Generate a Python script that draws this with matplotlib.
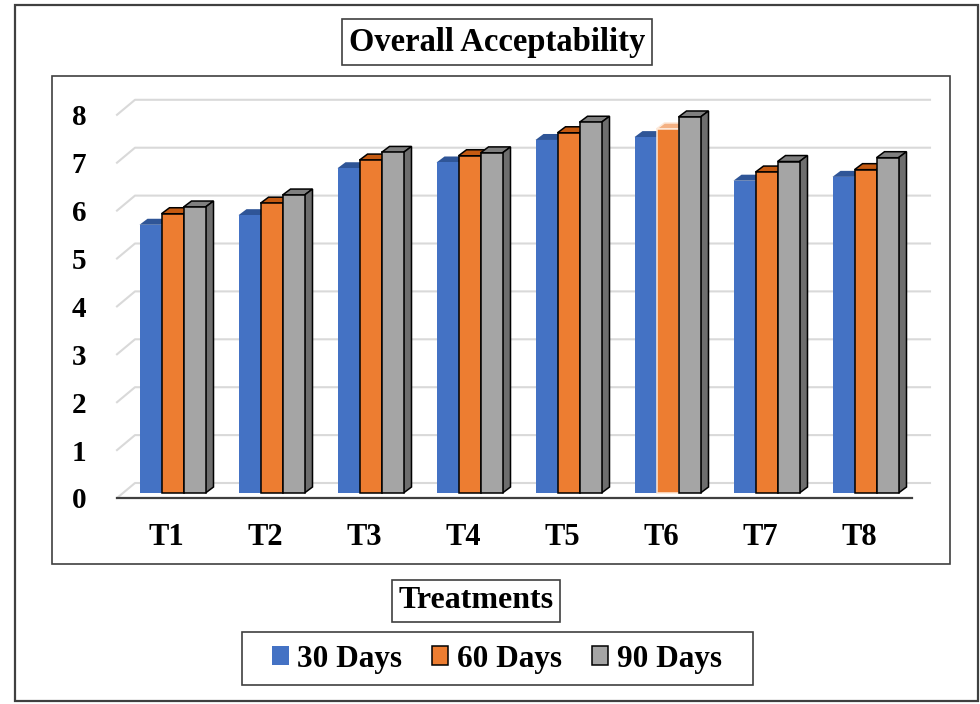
import matplotlib.pyplot as plt
from matplotlib.patches import Patch, Polygon, Rectangle

plt.rcParams["font.family"] = ["Liberation Serif", "DejaVu Serif"]
plt.rcParams["font.weight"] = "bold"

treatments = ["T1", "T2", "T3", "T4", "T5", "T6", "T7", "T8"]
series_names = ["30 Days", "60 Days", "90 Days"]
days_30 = [5.6, 5.8, 6.78, 6.9, 7.37, 7.43, 6.52, 6.6]
days_60 = [5.83, 6.05, 6.95, 7.04, 7.52, 7.6, 6.7, 6.75]
days_90 = [5.97, 6.22, 7.11, 7.1, 7.74, 7.85, 6.92, 7.0]
y_ticks = [0, 1, 2, 3, 4, 5, 6, 7, 8]

front_colors = ["#4472c4", "#ed7d31", "#a5a5a5"]
top_colors = ["#2f5597", "#c55a11", "#7f7f7f"]
side_colors = ["#2f5597", "#c55a11", "#6e6e6e"]
edge_colors = ["none", "black", "black"]

# figure is laid out in pixels
W, H = 980, 704
PX_X, PX_Y = 99.0, 47.9  # pixels per category / per unit
X0, Y0 = 117, 498         # front origin of the plot in pixels


def fx(px):
    return px / W


def fy(py):
    return 1 - py / H


def frame(x0, y0, x1, y1, lw):
    fig.add_artist(Rectangle((fx(x0), fy(y1)), fx(x1) - fx(x0), fy(y0) - fy(y1),
                             transform=fig.transFigure, fill=False, ec="#404040", lw=lw))


fig = plt.figure(figsize=(W / 100, H / 100), dpi=100)
fig.patch.set_facecolor("white")

# outer frame, chart-area frame, legend frame
frame(15, 5, 978, 701, 1.6)
frame(52, 76, 950, 564, 1.2)
frame(242, 632, 753, 685, 1.2)

x_max = (934 - X0) / PX_X
y_max = 8.5
ax = fig.add_axes([fx(X0), fy(Y0), (934 - X0) / W, y_max * PX_Y / H])
ax.set_xlim(0, x_max)
ax.set_ylim(0, y_max)
for sp in ax.spines.values():
    sp.set_visible(False)
ax.set_facecolor("none")

# depth offsets (in data units)
back_dx, back_dy = 18 / PX_X, 15 / PX_Y
bar_dx, bar_dy = 6 / PX_X, 5 / PX_Y
side_dx, side_dy = 8 / PX_X, 6 / PX_Y
bar_w = 22 / PX_X

# back wall gridlines
for v in y_ticks:
    ax.plot([0, back_dx, (930 - X0) / PX_X], [v, v + back_dy, v + back_dy],
            color="#d9d9d9", lw=1.5, zorder=1, clip_on=False)

# front floor line
ax.plot([0, (912 - X0) / PX_X], [0, 0], color="#404040", lw=1.6, zorder=2, clip_on=False)

series = [days_30, days_60, days_90]
for j, vals in enumerate(series):
    z = 3 + 2 * j
    lefts = [i + 0.5 + bar_dx + (j - 1.5) * bar_w for i in range(len(treatments))]
    ecs = [edge_colors[j]] * len(vals)
    if j == 1:
        ecs[5] = "#fde9d9"  # T6 60 Days drawn highlighted
    ax.bar([l + bar_w / 2 for l in lefts], vals, width=bar_w, bottom=bar_dy,
           color=front_colors[j], edgecolor=ecs, linewidth=1.1, zorder=z + 1)
    for l, v, ec in zip(lefts, vals, ecs):
        top = bar_dy + v
        r = l + bar_w
        lw = 0 if ec == "none" else 1.1
        ax.add_patch(Polygon([(l, top), (r, top), (r + side_dx, top + side_dy),
                              (l + side_dx, top + side_dy)], closed=True,
                             fc=top_colors[j] if ec != "#fde9d9" else "#f4b183",
                             ec=ec, lw=lw, zorder=z))
        ax.add_patch(Polygon([(r, bar_dy), (r + side_dx, bar_dy + side_dy),
                              (r + side_dx, top + side_dy), (r, top)], closed=True,
                             fc=side_colors[j], ec=ec, lw=lw, zorder=z))

ax.set_yticks(y_ticks)
ax.set_yticklabels([str(v) for v in y_ticks], fontsize=21, fontweight="bold")
ax.set_xticks([i + 0.5 for i in range(len(treatments))])
ax.set_xticklabels(treatments, fontsize=22, fontweight="bold")
ax.tick_params(axis="y", length=0, pad=22)
ax.tick_params(axis="x", length=0, pad=18)

box = dict(boxstyle="square,pad=0.22", fc="white", ec="#404040", lw=1.2)
fig.text(fx(497), fy(42), "Overall Acceptability", ha="center", va="center",
         fontsize=23.5, fontweight="bold", bbox=box)
fig.text(fx(476), fy(601), "Treatments", ha="center", va="center",
         fontsize=23, fontweight="bold", bbox=dict(box, pad=None, boxstyle="square,pad=0.2"))

handles = [Patch(fc=front_colors[k], ec=edge_colors[k], lw=1.1) for k in range(3)]
fig.legend(handles, series_names, loc="center", bbox_to_anchor=(fx(497), fy(659)),
           ncol=3, frameon=False, prop=dict(size=22.5, weight="bold"),
           handlelength=0.52, handleheight=0.52, handletextpad=0.28,
           columnspacing=0.95, borderpad=0.3)

fig.savefig("out.png", dpi=100, facecolor="white")
